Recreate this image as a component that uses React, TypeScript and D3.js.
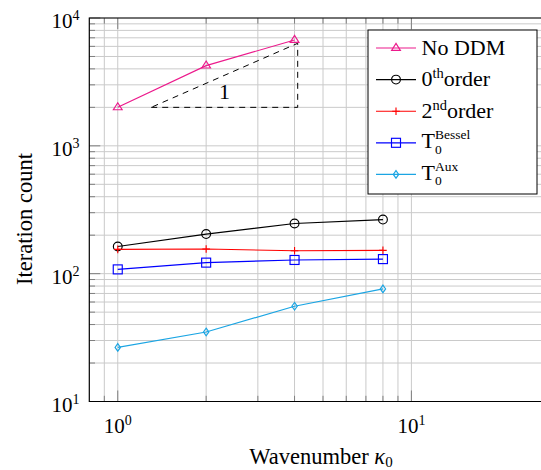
import React from "react";
import * as d3 from "d3";

const xValues = [1, 2, 4, 8];
const noDDM = [2000, 4240, 6730];
const zerothOrder = [163, 204, 247, 265];
const secondOrder = [155, 156, 151, 152];
const besselT0 = [108, 122, 128, 130];
const auxT0 = [26.5, 35, 55.6, 76];
const slopeTri = { x0: 1.3, x1: 4.1, y0: 2000, y1: 6340 };
const xMajor = [1, 10];
const yMajor = [10, 100, 1000, 10000];
const xMinor = [0.9, 2, 3, 4, 5, 6, 7, 8, 9];
const yMinorBase = [2, 3, 4, 5, 6, 7, 8, 9];

const W = 541, H = 470;
const L = 89.3, R = 551.5, T = 18, B = 401.5;
const FONT = "Liberation Serif, DejaVu Serif, serif";
const fs = { fontFamily: FONT };

const x = d3.scaleLog().domain([0.8, 30]).range([L, R]);
const y = d3.scaleLog().domain([10, 10000]).range([B, T]);

const yMinor: number[] = [];
[10, 100, 1000].forEach((d) => yMinorBase.forEach((m) => yMinor.push(d * m)));

type Mk = "tri" | "circ" | "plus" | "sq" | "dia";
function Marker({ kind, cx, cy, color }: { kind: Mk; cx: number; cy: number; color: string }) {
  const sw = 1.15;
  if (kind === "circ") return <circle cx={cx} cy={cy} r={4.4} fill="none" stroke={color} strokeWidth={sw} />;
  if (kind === "sq") return <rect x={cx - 4.5} y={cy - 4.5} width={9} height={9} fill="none" stroke={color} strokeWidth={sw} />;
  if (kind === "tri")
    return <polygon points={`${cx},${cy - 4.6} ${cx + 4.4},${cy + 2.4} ${cx - 4.4},${cy + 2.4}`} fill="none" stroke={color} strokeWidth={sw} />;
  if (kind === "dia")
    return <polygon points={`${cx},${cy - 3.8} ${cx + 2.7},${cy} ${cx},${cy + 3.8} ${cx - 2.7},${cy}`} fill="none" stroke={color} strokeWidth={sw} />;
  return (
    <path d={`M${cx - 3.8},${cy}H${cx + 3.8}M${cx},${cy - 3.8}V${cy + 3.8}`} stroke={color} strokeWidth={sw} fill="none" />
  );
}

const series = [
  { name: "noddm", data: noDDM, color: "#ec1a8c", mk: "tri" as Mk },
  { name: "zeroth", data: zerothOrder, color: "#000000", mk: "circ" as Mk },
  { name: "second", data: secondOrder, color: "#ff0000", mk: "plus" as Mk },
  { name: "bessel", data: besselT0, color: "#0000ff", mk: "sq" as Mk },
  { name: "aux", data: auxT0, color: "#1ba5e3", mk: "dia" as Mk },
];

export default function App() {
  const line = d3
    .line<number>()
    .x((_, i) => x(xValues[i]))
    .y((d) => y(d));

  const legendRows = [
    { s: series[0], label: <>No DDM</> },
    { s: series[1], label: <>0<tspan dy={-8} fontSize={14.5}>th</tspan><tspan dy={8}>order</tspan></> },
    { s: series[2], label: <>2<tspan dy={-8} fontSize={14.5}>nd</tspan><tspan dy={8}>order</tspan></> },
    { s: series[3], label: "bessel" },
    { s: series[4], label: "aux" },
  ];
  const legTop = 30, legRowH = 31.6, legX = 368, legW = 169, legH = 164;

  return (
    <svg width={W} height={H} style={{ position: "absolute", left: 0, top: 0, background: "#fff", fontFamily: FONT }}>
      <defs>
        <clipPath id="plot">
          <rect x={L} y={T} width={R - L} height={B - T} />
        </clipPath>
      </defs>
      {/* grid */}
      <g stroke="#cacaca" strokeWidth={1}>
        {xMinor.concat(xMajor).map((v) => (
          <line key={"gx" + v} x1={x(v)} x2={x(v)} y1={T} y2={B} />
        ))}
        {yMinor.concat(yMajor).map((v) => (
          <line key={"gy" + v} x1={L} x2={R} y1={y(v)} y2={y(v)} />
        ))}
      </g>
      {/* ticks */}
      <g stroke="#808080" strokeWidth={1}>
        {yMinor.map((v) => (
          <line key={"ty" + v} x1={L} x2={L + 5.7} y1={y(v)} y2={y(v)} />
        ))}
        {yMajor.map((v) => (
          <line key={"tY" + v} x1={L} x2={L + 11} y1={y(v)} y2={y(v)} />
        ))}
        {xMinor.map((v) => (
          <g key={"tx" + v}>
            <line x1={x(v)} x2={x(v)} y1={B} y2={B - 5.7} />
            <line x1={x(v)} x2={x(v)} y1={T} y2={T + 5.7} />
          </g>
        ))}
        {xMajor.map((v) => (
          <g key={"tX" + v}>
            <line x1={x(v)} x2={x(v)} y1={B} y2={B - 11} />
            <line x1={x(v)} x2={x(v)} y1={T} y2={T + 11} />
          </g>
        ))}
      </g>
      {/* slope triangle */}
      <path
        d={`M${x(slopeTri.x0)},${y(slopeTri.y0)}L${x(slopeTri.x1)},${y(slopeTri.y0)}L${x(slopeTri.x1)},${y(slopeTri.y1)}Z`}
        fill="none"
        stroke="#000"
        strokeWidth={1}
        strokeDasharray="6,5"
      />
      <text style={fs} x={x(Math.sqrt(slopeTri.x0 * slopeTri.x1))} y={98.5} fontSize={22} textAnchor="middle">1</text>
      {/* series */}
      <g clipPath="url(#plot)">
        {series.map((s) => (
          <g key={s.name}>
            <path d={line(s.data) || ""} fill="none" stroke={s.color} strokeWidth={1.15} />
            {s.data.map((d, i) => (
              <Marker key={i} kind={s.mk} cx={x(xValues[i])} cy={y(d)} color={s.color} />
            ))}
          </g>
        ))}
      </g>
      {/* axis frame */}
      <path d={`M${R},${T}H${L}V${B}H${R}`} fill="none" stroke="#000" strokeWidth={1.2} />
      {/* tick labels */}
      {yMajor.map((v) => (
        <text style={fs} key={"ly" + v} x={79.5} y={y(v) + 10} fontSize={21} textAnchor="end">
          10<tspan dy={-8} fontSize={14}>{Math.round(Math.log10(v))}</tspan>
        </text>
      ))}
      {xMajor.map((v) => (
        <text style={fs} key={"lx" + v} x={x(v)} y={433} fontSize={21} textAnchor="middle">
          10<tspan dy={-8} fontSize={14}>{Math.round(Math.log10(v))}</tspan>
        </text>
      ))}
      {/* axis labels */}
      <text style={fs} x={321} y={464} fontSize={22.5} textAnchor="middle">
        Wavenumber <tspan fontStyle="italic">κ</tspan><tspan fontSize={15} dy={3}>0</tspan>
      </text>
      <text style={fs} transform={`translate(31.5,${219}) rotate(-90)`} fontSize={22.5} textAnchor="middle">
        Iteration count
      </text>
      {/* legend */}
      <rect x={legX} y={legTop} width={legW} height={legH} fill="#fff" stroke="#000" strokeWidth={1} />
      {legendRows.map((r, i) => {
        const cy = 48 + i * legRowH;
        return (
          <g key={"leg" + i}>
            <line x1={376} x2={416} y1={cy} y2={cy} stroke={r.s.color} strokeWidth={1.15} />
            <Marker kind={r.s.mk} cx={396} cy={cy} color={r.s.color} />
            {r.label === "bessel" || r.label === "aux" ? (
              <g>
                <text style={fs} x={421.5} y={cy + 5.5} fontSize={22}>T</text>
                <text style={fs} x={435} y={cy + 11} fontSize={13.5}>0</text>
                <text style={fs} x={435} y={cy - 3.5} fontSize={13.5}>{r.label === "bessel" ? "Bessel" : "Aux"}</text>
              </g>
            ) : (
              <text style={fs} x={421.5} y={cy + 6.5} fontSize={22}>{r.label}</text>
            )}
          </g>
        );
      })}
    </svg>
  );
}
